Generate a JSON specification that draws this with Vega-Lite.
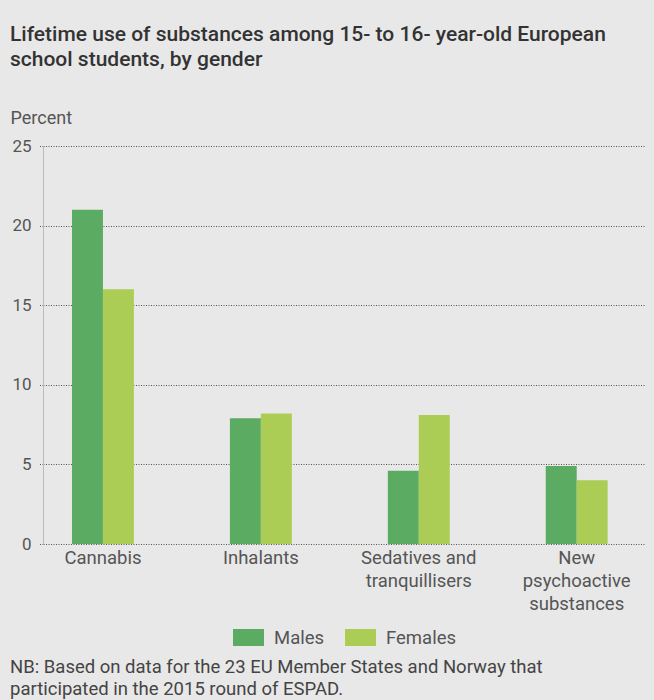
{
  "$schema": "https://vega.github.io/schema/vega-lite/v6.json",
  "background": "#e8e8e8",
  "padding": {"left": 10, "right": 9, "top": 24, "bottom": 2},
  "title": {
    "text": ["NB: Based on data for the 23 EU Member States and Norway that", "participated in the 2015 round of ESPAD."],
    "orient": "bottom", "anchor": "start", "frame": "bounds",
    "font": "Roboto", "fontSize": 18.5, "fontWeight": "normal", "color": "#444", "lineHeight": 22, "offset": 11
  },
  "config": {
    "view": {"stroke": null},
    "font": "Roboto",
    "legend": {"layout": {"bottom": {"anchor": "middle"}}}
  },
  "vconcat": [
    {
      "title": {
        "text": ["Lifetime use of substances among 15- to 16- year-old European", "school students, by gender"],
        "anchor": "start", "frame": "bounds",
        "font": "Roboto", "fontSize": 21, "fontWeight": 500, "color": "#333", "lineHeight": 25, "offset": 39
      },
      "width": 602,
      "height": 398,
      "data": {
        "values": [
          {"substance": "Cannabis", "gender": "Males", "percent": 21},
          {"substance": "Cannabis", "gender": "Females", "percent": 16},
          {"substance": "Inhalants", "gender": "Males", "percent": 7.9},
          {"substance": "Inhalants", "gender": "Females", "percent": 8.2},
          {"substance": "Sedatives and tranquillisers", "gender": "Males", "percent": 4.6},
          {"substance": "Sedatives and tranquillisers", "gender": "Females", "percent": 8.1},
          {"substance": "New psychoactive substances", "gender": "Males", "percent": 4.9},
          {"substance": "New psychoactive substances", "gender": "Females", "percent": 4.0}
        ]
      },
      "mark": {"type": "bar"},
      "encoding": {
        "x": {
          "field": "substance", "type": "nominal", "sort": null,
          "scale": {"paddingInner": 0.608, "paddingOuter": 0.21, "align": 0.437},
          "axis": {
            "title": null, "labelAngle": 0, "domain": false, "ticks": false,
            "labelExpr": "datum.label == 'Sedatives and tranquillisers' ? ['Sedatives and', 'tranquillisers'] : datum.label == 'New psychoactive substances' ? ['New', 'psychoactive', 'substances'] : datum.label",
            "labelFontSize": 18.5, "labelColor": "#555", "labelLineHeight": 23, "labelPadding": 4, "labelBaseline": "top"
          }
        },
        "xOffset": {"field": "gender", "type": "nominal", "sort": ["Males", "Females"], "scale": {"paddingInner": 0, "paddingOuter": 0}},
        "y": {
          "field": "percent", "type": "quantitative",
          "scale": {"domain": [0, 25]},
          "axis": {
            "values": [0, 5, 10, 15, 20, 25],
            "title": "Percent", "titleAngle": 0, "titleAlign": "left", "titleBaseline": "middle",
            "titleX": -33, "titleY": -28, "titleFontSize": 18, "titleFontWeight": "normal", "titleColor": "#555",
            "labelFontSize": 17, "labelColor": "#555", "labelPadding": 8,
            "tickSize": 4, "tickColor": "#555", "tickDash": [1, 1.5],
            "gridColor": "#555", "gridDash": [1, 1.5], "gridOpacity": 1,
            "domainColor": "#bbb"
          }
        },
        "color": {
          "field": "gender", "type": "nominal",
          "scale": {"domain": ["Males", "Females"], "range": ["#5cab63", "#abcd55"]},
          "legend": {
            "orient": "bottom", "direction": "horizontal", "title": null,
            "symbolType": "M-1,-0.55H1V0.55H-1Z", "symbolSize": 961, "symbolStrokeWidth": 0, "symbolOpacity": 1,
            "labelFontSize": 18.5, "labelColor": "#555", "labelOffset": 10, "columnPadding": 20, "offset": 9
          }
        }
      }
    }
  ]
}
